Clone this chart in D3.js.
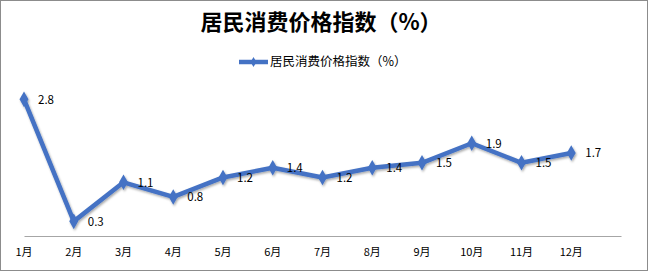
<!DOCTYPE html>
<html>
<head>
<meta charset="utf-8">
<script src="https://cdn.jsdelivr.net/npm/d3@7"></script>
<style>
  html, body { margin: 0; padding: 0; background: #fff; }
  svg text { font-family: "Noto Sans CJK SC", "Noto Sans", sans-serif; }
</style>
</head>
<body>
<div id="chart"></div>
<script>
var months = ['1月', '2月', '3月', '4月', '5月', '6月', '7月', '8月', '9月', '10月', '11月', '12月'];
var cpiValues = [2.8, 0.3, 1.1, 0.8, 1.2, 1.4, 1.2, 1.4, 1.5, 1.9, 1.5, 1.7];
var seriesName = '居民消费价格指数（%）';
var chartTitle = '居民消费价格指数（%）';

var width = 650, height = 272;
var blue = '#4472c4';

var svg = d3.select('#chart').append('svg')
    .attr('width', width)
    .attr('height', height);

// soft shadow like the office chart
var defs = svg.append('defs');
var filter = defs.append('filter').attr('id', 'shadow')
    .attr('x', '-20%').attr('y', '-20%').attr('width', '140%').attr('height', '140%');
filter.append('feDropShadow')
    .attr('dx', 1).attr('dy', 1.5).attr('stdDeviation', 1.2)
    .attr('flood-color', '#000').attr('flood-opacity', 0.35);

// outer border
svg.append('rect')
    .attr('x', 0.5).attr('y', 0.5)
    .attr('width', width - 3).attr('height', height - 2)
    .attr('fill', '#fff')
    .attr('stroke', '#8c8c8c');

// title
svg.append('text')
    .attr('x', 321).attr('y', 30)
    .attr('text-anchor', 'middle')
    .attr('font-size', 22)
    .attr('font-weight', 'bold')
    .attr('fill', '#000')
    .text(chartTitle);

// legend
var legend = svg.append('g').attr('transform', 'translate(239,62)');
legend.append('line')
    .attr('x1', 0).attr('x2', 29)
    .attr('stroke', blue).attr('stroke-width', 4.5);
legend.append('path')
    .attr('d', d3.symbol().type(d3.symbolDiamond).size(30)())
    .attr('transform', 'translate(14.5,0)')
    .attr('fill', blue);
legend.append('text')
    .attr('x', 31).attr('y', 0)
    .attr('dy', '0.35em')
    .attr('font-size', 12.5)
    .attr('fill', '#000')
    .text(seriesName);

// scales
var x = d3.scaleBand().domain(months).range([24, 621]).paddingInner(0).paddingOuter(0);
var y = d3.scaleLinear().domain([0, 3]).range([236, 89.6]);

// category axis
var xAxis = d3.axisBottom(x).tickSize(0).tickPadding(12);
var axisG = svg.append('g')
    .attr('transform', 'translate(0,' + y(0) + ')')
    .call(xAxis);
axisG.select('.domain').attr('stroke', '#a6a6a6').attr('stroke-width', 1.2);
axisG.selectAll('.tick')
    .attr('transform', function(d) { return 'translate(' + x(d) + ',0)'; });
axisG.selectAll('.tick text')
    .attr('font-size', 11)
    .attr('font-family', '"Noto Sans CJK SC", sans-serif')
    .attr('fill', '#000');

var points = months.map(function(m, i) { return { month: m, value: cpiValues[i] }; });

var line = d3.line()
    .x(function(d) { return x(d.month); })
    .y(function(d) { return y(d.value); });

var series = svg.append('g').attr('filter', 'url(#shadow)');
series.append('path')
    .datum(points)
    .attr('d', line)
    .attr('fill', 'none')
    .attr('stroke', blue)
    .attr('stroke-width', 4.5)
    .attr('stroke-linejoin', 'round');

series.selectAll('.marker')
    .data(points).enter()
    .append('path')
    .attr('class', 'marker')
    .attr('d', d3.symbol().type(d3.symbolDiamond).size(70)())
    .attr('transform', function(d) { return 'translate(' + x(d.month) + ',' + y(d.value) + ')'; })
    .attr('fill', blue);

// data labels to the right of each point
svg.selectAll('.data-label')
    .data(points).enter()
    .append('text')
    .attr('class', 'data-label')
    .attr('x', function(d) { return x(d.month) + 14; })
    .attr('y', function(d) { return y(d.value); })
    .attr('dy', '0.38em')
    .attr('font-size', 11.5)
    .attr('fill', '#000')
    .text(function(d) { return d.value.toFixed(1); });
</script>
</body>
</html>
